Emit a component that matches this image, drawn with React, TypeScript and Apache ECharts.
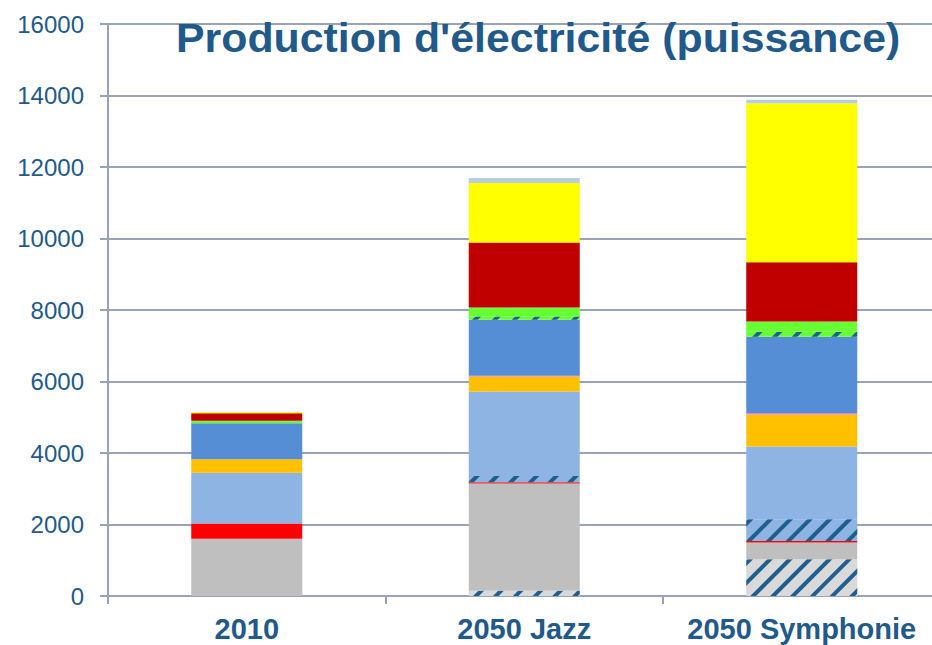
import React, { useEffect, useRef } from "react";
import * as echarts from "echarts";

const categories = ["2010", "2050 Jazz", "2050 Symphonie"];
const yTicks = [0, 2000, 4000, 6000, 8000, 10000, 12000, 14000, 16000];

// stacked segments, bottom to top
const hatchedGrey = [0, 150, 1030];
const grey = [1600, 3000, 465];
const red = [430, 30, 45];
const hatchedLightBlue = [0, 180, 610];
const lightBlue = [1420, 2360, 2030];
const orange = [375, 420, 895];
const pink = [0, 20, 40];
const blue = [1005, 1570, 2140];
const hatchedGreen = [0, 90, 140];
const green = [75, 250, 280];
const darkRed = [205, 1820, 1660];
const yellow = [30, 1660, 4450];
const lightGreyBlue = [0, 140, 95];

const TEXT = "#1f5a8a";
const AXIS = "#97a3bb";
const STRIPE = "#1f5f8f";

const hatch = {
  color: STRIPE,
  symbol: "rect",
  symbolSize: 1,
  dashArrayX: [1, 0],
  dashArrayY: [4, 10],
  rotation: -Math.PI / 4,
};

const seriesDefs: { name: string; data: number[]; color: string; hatched?: boolean }[] = [
  { name: "hatchedGrey", data: hatchedGrey, color: "#d9d9d9", hatched: true },
  { name: "grey", data: grey, color: "#bfbfbf" },
  { name: "red", data: red, color: "#ff0000" },
  { name: "hatchedLightBlue", data: hatchedLightBlue, color: "#8db4e2", hatched: true },
  { name: "lightBlue", data: lightBlue, color: "#8db4e2" },
  { name: "orange", data: orange, color: "#ffc000" },
  { name: "pink", data: pink, color: "#ff66cc" },
  { name: "blue", data: blue, color: "#558ed5" },
  { name: "hatchedGreen", data: hatchedGreen, color: "#66ff33", hatched: true },
  { name: "green", data: green, color: "#66ff33" },
  { name: "darkRed", data: darkRed, color: "#c00000" },
  { name: "yellow", data: yellow, color: "#ffff00" },
  { name: "lightGreyBlue", data: lightGreyBlue, color: "#b8cce4" },
];

export default function App() {
  const ref = useRef<HTMLDivElement>(null);
  useEffect(() => {
    if (!ref.current) return;
    const chart = echarts.init(ref.current, undefined, { renderer: "svg" });
    chart.setOption({
      animation: false,
      backgroundColor: "#ffffff",
      grid: { left: 108, top: 24, bottom: 49, right: 19.5, containLabel: false },
      graphic: [
        {
          type: "text",
          left: 176,
          top: 17,
          z: 100,
          scaleX: 1.045,
          style: {
            text: "Production d'électricité (puissance)",
            fill: TEXT,
            font: "bold 41px 'Liberation Sans', Arial, sans-serif",
          },
        },
      ],
      xAxis: {
        type: "category",
        data: categories,
        axisLine: { lineStyle: { color: AXIS, width: 2 } },
        axisTick: { show: true, length: 8, lineStyle: { color: AXIS, width: 2 } },
        axisLabel: {
          color: TEXT,
          fontFamily: "'Liberation Sans', Arial, sans-serif",
          fontWeight: "bold",
          fontSize: 29,
          margin: 18,
          interval: 0,
          hideOverlap: false,
        },
      },
      yAxis: {
        type: "value",
        min: 0,
        max: 16000,
        interval: 2000,
        axisLine: { show: true, lineStyle: { color: AXIS, width: 2 } },
        axisTick: { show: true, length: 8, lineStyle: { color: AXIS, width: 2 } },
        splitLine: { show: true, lineStyle: { color: AXIS, width: 2 } },
        axisLabel: {
          color: TEXT,
          fontFamily: "'Liberation Sans', Arial, sans-serif",
          fontSize: 24,
          margin: 24,
          formatter: (v: number) => (yTicks.includes(v) ? String(v) : ""),
        },
      },
      series: seriesDefs.map((s) => ({
        name: s.name,
        type: "bar",
        stack: "total",
        barWidth: 111,
        data: s.data,
        itemStyle: s.hatched
          ? { color: s.color, decal: hatch }
          : { color: s.color },
      })),
    });
    return () => chart.dispose();
  }, []);
  return (
    <div
      style={{
        position: "fixed",
        left: 0,
        top: 0,
        width: 932,
        height: 645,
        overflow: "hidden",
        background: "#ffffff",
      }}
    >
      <div ref={ref} style={{ width: 960, height: 645 }} />
    </div>
  );
}
